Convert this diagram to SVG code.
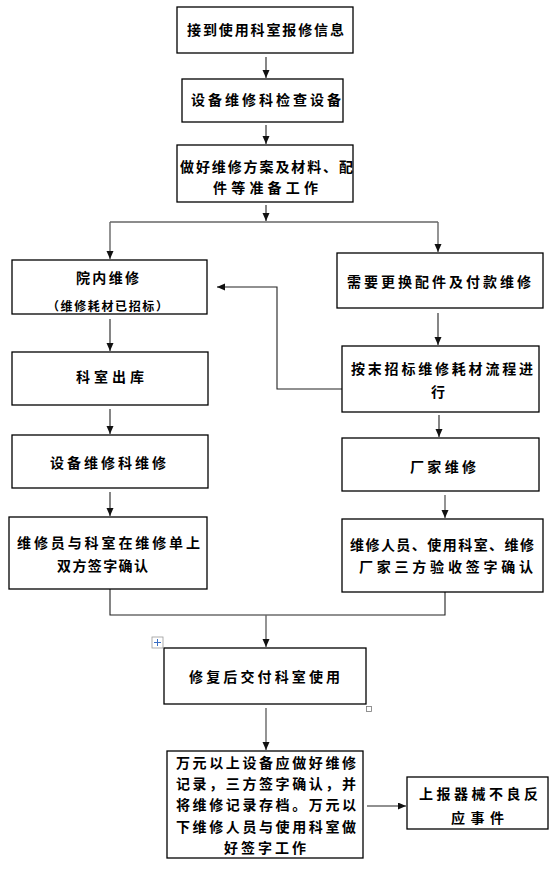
<svg xmlns="http://www.w3.org/2000/svg" width="551" height="870" viewBox="0 0 551 870">
<defs>
<marker id="ah" markerUnits="userSpaceOnUse" markerWidth="8" markerHeight="8" refX="8" refY="3.5" orient="auto">
<path d="M0,0 L8,3.5 L0,7 z" fill="#111"/>
</marker>
<style>
.box{fill:#fff;stroke:#000;stroke-width:1.3}
.t{font-family:"Noto Sans CJK SC","Noto Sans CJK JP",sans-serif;font-size:14px;font-weight:bold;fill:#000}
.s{font-size:12px}
.c{fill:none;stroke:#222;stroke-width:1.1}
.g{fill:none;stroke:#666;stroke-width:1.4}
</style>
</defs>
<rect width="551" height="870" fill="#fff"/>
<g id="connectors">
<path class="c" d="M266,57 V78" marker-end="url(#ah)"/>
<path class="c" d="M266,125 V144" marker-end="url(#ah)"/>
<path class="c" d="M266,205 V221" marker-end="url(#ah)"/>
<path class="g" d="M110,222 H438"/>
<path class="g" d="M110,222 V259" marker-end="url(#ah)"/>
<path class="g" d="M438,222 V252" marker-end="url(#ah)"/>
<path class="c" d="M110,319 V351" marker-end="url(#ah)"/>
<path class="c" d="M438,313 V345" marker-end="url(#ah)"/>
<path class="c" d="M342,389 H277 V287 H217" marker-end="url(#ah)"/>
<path class="c" d="M110,409 V434" marker-end="url(#ah)"/>
<path class="c" d="M439,415 V437" marker-end="url(#ah)"/>
<path class="c" d="M110,492 V516" marker-end="url(#ah)"/>
<path class="g" d="M445,495 V518" marker-end="url(#ah)"/>
<path class="c" d="M110,589 V615 H445 V592"/>
<path class="g" d="M266,615 V647" marker-end="url(#ah)"/>
<path class="g" d="M266,708 V750" marker-end="url(#ah)"/>
<path class="c" d="M367,806 H406" marker-end="url(#ah)"/>
</g>
<g id="n1"><rect class="box" x="177" y="7" width="176" height="46"/>
<text class="t" x="187" y="35" textLength="157" lengthAdjust="spacing">接到使用科室报修信息</text></g>
<g id="n2"><rect class="box" x="182" y="79" width="161" height="43"/>
<text class="t" x="191" y="105" textLength="150" lengthAdjust="spacing">设备维修科检查设备</text></g>
<g id="n3"><rect class="box" x="177" y="145" width="176" height="57"/>
<text class="t" x="180" y="172" textLength="173" lengthAdjust="spacing">做好维修方案及材料、配</text>
<text class="t" x="213" y="193" textLength="105" lengthAdjust="spacing">件等准备工作</text></g>
<g id="n4"><rect class="box" x="12" y="260" width="195" height="54"/>
<text class="t" x="76" y="283" textLength="63" lengthAdjust="spacing">院内维修</text>
<text class="t s" x="47" y="311" textLength="121" lengthAdjust="spacing">（维修耗材已招标）</text></g>
<g id="n5"><rect class="box" x="337" y="253" width="206" height="55"/>
<text class="t" x="347" y="287" textLength="184" lengthAdjust="spacing">需要更换配件及付款维修</text></g>
<g id="n6"><rect class="box" x="12" y="352" width="196" height="53"/>
<text class="t" x="76" y="382" textLength="68" lengthAdjust="spacing">科室出库</text></g>
<g id="n7"><rect class="box" x="342" y="346" width="197" height="66"/>
<text class="t" x="351" y="374" textLength="182" lengthAdjust="spacing">按末招标维修耗材流程进</text>
<text class="t" x="431" y="397">行</text></g>
<g id="n8"><rect class="box" x="12" y="435" width="196" height="53"/>
<text class="t" x="50" y="468" textLength="116" lengthAdjust="spacing">设备维修科维修</text></g>
<g id="n9"><rect class="box" x="342" y="438" width="197" height="53"/>
<text class="t" x="410" y="472" textLength="66" lengthAdjust="spacing">厂家维修</text></g>
<g id="n10"><rect class="box" x="9" y="517" width="198" height="72"/>
<text class="t" x="17" y="548" textLength="183" lengthAdjust="spacing">维修员与科室在维修单上</text>
<text class="t" x="57" y="571" textLength="91" lengthAdjust="spacing">双方签字确认</text></g>
<g id="n11"><rect class="box" x="342" y="519" width="201" height="73"/>
<text class="t" x="350" y="550" textLength="184" lengthAdjust="spacing">维修人员、使用科室、维修</text>
<text class="t" x="359" y="572" textLength="174" lengthAdjust="spacing">厂家三方验收签字确认</text></g>
<g id="n12"><rect class="box" x="164" y="648" width="202" height="56"/>
<text class="t" x="189" y="682" textLength="151" lengthAdjust="spacing">修复后交付科室使用</text></g>
<g id="n13"><rect class="box" x="167" y="751" width="196" height="107"/>
<text class="t" x="176" y="768" textLength="180" lengthAdjust="spacing">万元以上设备应做好维修</text>
<text class="t" x="176" y="789" textLength="180" lengthAdjust="spacing">记录，三方签字确认，并</text>
<text class="t" x="176" y="810" textLength="180" lengthAdjust="spacing">将维修记录存档。万元以</text>
<text class="t" x="176" y="832" textLength="180" lengthAdjust="spacing">下维修人员与使用科室做</text>
<text class="t" x="224" y="853" textLength="82" lengthAdjust="spacing">好签字工作</text></g>
<g id="n14"><rect class="box" x="407" y="777" width="141" height="52"/>
<text class="t" x="419" y="799" textLength="119" lengthAdjust="spacing">上报器械不良反</text>
<text class="t" x="451" y="823" textLength="53" lengthAdjust="spacing">应事件</text></g>
<g id="handles">
<rect x="152" y="637" width="11" height="11" fill="#fff" stroke="#999" stroke-width="0.8"/>
<path d="M157.5,639 V646 M154,642.5 H161" stroke="#3a6fc4" stroke-width="1"/>
<rect x="366.5" y="706.5" width="5" height="5" fill="#fff" stroke="#777" stroke-width="0.8"/>
</g>
</svg>
